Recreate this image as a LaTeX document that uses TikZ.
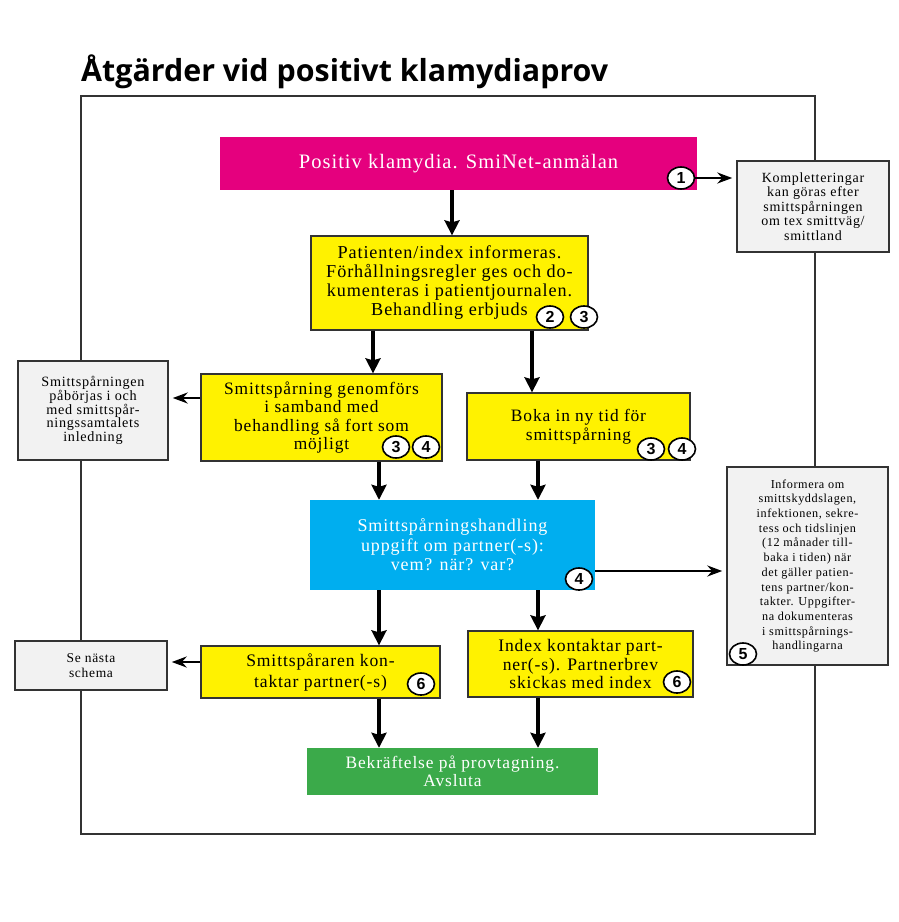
\documentclass[tikz,border=0pt]{standalone}
\usepackage{fontspec}
\usepackage{graphicx}
\setmainfont{Liberation Serif}[LetterSpace=5]
\newfontfamily\numfont{Liberation Sans}
\newfontfamily\titlefont{Open Sans}
\usetikzlibrary{arrows.meta,shapes.geometric}
\definecolor{magbox}{HTML}{E5007E}
\definecolor{yelbox}{HTML}{FFF200}
\definecolor{bluebox}{HTML}{00AEEF}
\definecolor{greenbox}{HTML}{3BAA4A}
\definecolor{graybox}{HTML}{F2F2F2}
\definecolor{edge}{HTML}{333333}
\newcommand\setfs[2]{\fontsize{#1}{#2}\selectfont}
\begin{document}
\begin{tikzpicture}[x=1pt,y=-1pt,
  box/.style={rectangle, inner sep=0pt, align=center},
  ybox/.style={box, fill=yelbox, draw=edge, line width=1.3pt, text=black},
  gbox/.style={box, fill=graybox, draw=edge, line width=1.5pt, text=black},
  cbox/.style={box, text=white},
  num/.style={ellipse, draw=black, line width=1.6pt, fill=white, minimum width=27pt, minimum height=22pt, inner sep=0pt, font=\numfont\bfseries\setfs{16}{16}},
  arr/.style={line width=4pt, -{Stealth[length=15pt,width=15pt,inset=2pt]}},
  sarr/.style={line width=2.8pt, -{Stealth[length=15pt,width=11pt,inset=5pt]}, shorten >=4pt},
]
\useasboundingbox (0,0) rectangle (899,922);
\fill[white] (0,0) rectangle (899,922);

% title
\node[anchor=base west, inner sep=0pt] (title) at (81,81)
  {\resizebox{527pt}{!}{\titlefont\bfseries Åtgärder vid positivt klamydiaprov}};

% frame
\draw[line width=1.5pt, edge] (81,96) rectangle (815,834);

% boxes
\node[cbox, fill=magbox, minimum width=477pt, minimum height=53pt, font=\setfs{20.5}{22}] (mag) at (458.5,163.5)
  {Positiv klamydia. SmiNet-anmälan};
\node[gbox, minimum width=152pt, minimum height=91pt, font=\setfs{14}{14.5}] (grayK) at (813,206.5)
  {Kompletteringar\\kan göras efter\\smittspårningen\\om tex smittväg/\\smittland};
\node[ybox, minimum width=277pt, minimum height=94pt, font=\setfs{18.2}{19}] (y1) at (449.5,283)
  {Patienten/index informeras.\\Förhållningsregler ges och do-\\kumenteras i patientjournalen.\\Behandling erbjuds};
\node[gbox, minimum width=150pt, minimum height=99pt, font=\setfs{14.2}{13.8}] (grayL) at (93,410.5)
  {Smittspårningen\\påbörjas i och\\med smittspår-\\ningssamtalets\\inledning};
\node[ybox, minimum width=241pt, minimum height=87pt, font=\setfs{17.4}{18.5}] (yL2) at (321.5,417.5)
  {Smittspårning genomförs\\i samband med\\behandling så fort som\\möjligt};
\node[ybox, minimum width=223pt, minimum height=67pt, font=\setfs{17.4}{19}] (yR2) at (578.5,426.5)
  {Boka in ny tid för\\smittspårning};
\node[cbox, fill=bluebox, minimum width=285pt, minimum height=90pt, font=\setfs{18}{19.5}] (blue) at (452.5,545)
  {Smittspårningshandling\\uppgift om partner(-s):\\vem? när? var?};
\node[gbox, minimum width=161pt, minimum height=198pt, font=\setfs{12.2}{14.7}] (gray5) at (807.5,566)
  {Informera om\\smittskyddslagen,\\infektionen, sekre-\\tess och tidslinjen\\(12 månader till-\\baka i tiden) när\\det gäller patien-\\tens partner/kon-\\takter. Uppgifter-\\na dokumenteras\\i smittspårnings-\\handlingarna};
\node[ybox, minimum width=239pt, minimum height=52pt, font=\setfs{17.6}{21}] (yL3) at (320.5,672)
  {Smittspåraren kon-\\taktar partner(-s)};
\node[gbox, minimum width=152pt, minimum height=49pt, font=\setfs{13.5}{15}] (graySe) at (91,665.5)
  {Se nästa\\schema};
\node[ybox, minimum width=225pt, minimum height=66pt, font=\setfs{17.6}{18.5}] (yR3) at (580.5,664)
  {Index kontaktar part-\\ner(-s). Partnerbrev\\skickas med index};
\node[cbox, fill=greenbox, minimum width=291pt, minimum height=47pt, font=\setfs{17.4}{17.5}] (green) at (452.5,771.5)
  {Bekräftelse på provtagning.\\Avsluta};

% column / row helpers
\coordinate (cM) at (452,0);
\coordinate (cL1) at (373,0);
\coordinate (cR1) at (532,0);
\coordinate (cL) at (379,0);
\coordinate (cR) at (538,0);
\coordinate (rL) at (0,398);
\coordinate (rB) at (0,571);
\coordinate (rS) at (0,662);

% vertical arrows
\draw[arr] (mag.south -| cM) -- (y1.north -| cM);
\draw[arr] (y1.south -| cL1) -- (yL2.north -| cL1);
\draw[arr] (y1.south -| cR1) -- (yR2.north -| cR1);
\draw[arr] (yL2.south -| cL) -- (blue.north -| cL);
\draw[arr] (yR2.south -| cR) -- (blue.north -| cR);
\draw[arr] (blue.south -| cL) -- (yL3.north -| cL);
\draw[arr] (blue.south -| cR) -- (yR3.north -| cR);
\draw[arr] (yL3.south -| cL) -- (green.north -| cL);
\draw[arr] (yR3.south -| cR) -- (green.north -| cR);

% circled numbers
\node[num] (n1) at (681,178) {1};
\node[num] (n2) at (550,317) {2};
\node[num] (n3a) at (584,317) {3};
\node[num] (n3b) at (396,447) {3};
\node[num] (n4a) at (426,447) {4};
\node[num] (n3c) at (651,449) {3};
\node[num] (n4b) at (682,449) {4};
\node[num] (n4c) at (579,579) {4};
\node[num] (n5) at (743,654) {5};
\node[num] (n6a) at (421,684) {6};
\node[num] (n6b) at (677,682) {6};

% horizontal arrows
\draw[sarr] (n1.east) -- (grayK.west |- n1.east);
\draw[sarr] (yL2.west |- rL) -- (grayL.east |- rL);
\draw[sarr] (blue.east |- rB) -- (gray5.west |- rB);
\draw[sarr] (yL3.west |- rS) -- (graySe.east |- rS);
\end{tikzpicture}
\end{document}
